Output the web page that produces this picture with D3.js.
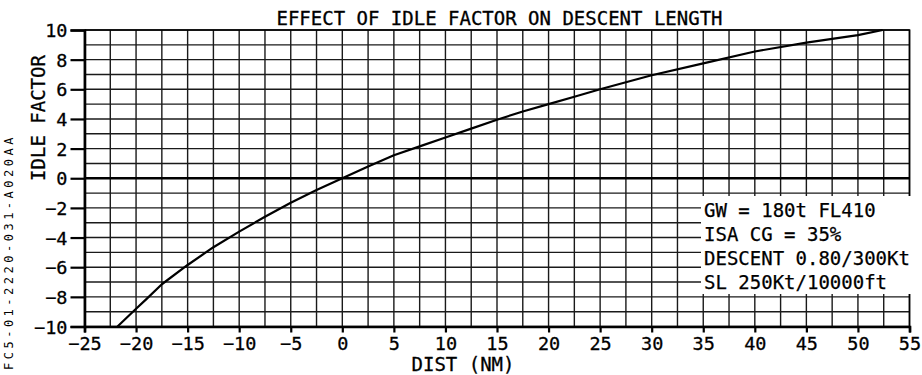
<!DOCTYPE html>
<html>
<head>
<meta charset="utf-8">
<script src="https://cdn.jsdelivr.net/npm/d3@7"></script>
<style>
  html, body { margin: 0; padding: 0; background: #fff; }
  svg { display: block; }
  text { font-family: "DejaVu Sans Mono", monospace; fill: #000; }
</style>
</head>
<body>
<svg id="chart" width="922" height="375"></svg>
<script>
// Distance (NM) against idle factor
const dist = [-21.8, -20, -19, -17.5, -15, -12.5, -10, -7.5, -5, -2.5, 0, 2.5, 5, 7.5, 10, 12.5, 15, 17.5, 20, 22.5, 25, 30, 35, 40, 45, 50, 52.4];
const idle = [-10, -8.8, -8.15, -7.15, -5.85, -4.65, -3.6, -2.6, -1.65, -0.8, 0, 0.8, 1.55, 2.15, 2.75, 3.35, 3.95, 4.5, 5.0, 5.5, 6.0, 6.95, 7.75, 8.55, 9.15, 9.65, 10];

const xTicks = [-25, -20, -15, -10, -5, 0, 5, 10, 15, 20, 25, 30, 35, 40, 45, 50, 55];
const yTicks = [-10, -8, -6, -4, -2, 0, 2, 4, 6, 8, 10];
const xGrid = d3.range(-25, 55.01, 2.5);
const yGrid = d3.range(-10, 10.01, 1);

const title = "EFFECT OF IDLE FACTOR ON DESCENT LENGTH";
const xTitle = "DIST (NM)";
const yTitle = "IDLE FACTOR";
const notes = ["GW = 180t FL410", "ISA CG = 35%", "DESCENT 0.80/300Kt", "SL 250Kt/10000ft"];
const figRef = "FC5-01-2220-031-A020AA";

const svg = d3.select("#chart");
const x = d3.scaleLinear().domain([-25, 55]).range([84.5, 909.5]);
const y = d3.scaleLinear().domain([-10, 10]).range([326.5, 30]);

// grid
const grid = svg.append("g").attr("stroke", "#1a1a1a").attr("stroke-width", 1.4);
grid.selectAll("line.v").data(xGrid).join("line")
  .attr("x1", d => x(d)).attr("x2", d => x(d))
  .attr("y1", y(10)).attr("y2", y(-10));
grid.selectAll("line.h").data(yGrid).join("line")
  .attr("x1", x(-25)).attr("x2", x(55))
  .attr("y1", d => y(d)).attr("y2", d => y(d));

// heavier zero line
svg.append("line")
  .attr("x1", x(-25)).attr("x2", x(55))
  .attr("y1", y(0)).attr("y2", y(0))
  .attr("stroke", "#000").attr("stroke-width", 2.4);

// curve
svg.append("path")
  .datum(d3.zip(dist, idle))
  .attr("fill", "none").attr("stroke", "#000").attr("stroke-width", 2.2)
  .attr("stroke-linejoin", "round")
  .attr("d", d3.line().x(d => x(d[0])).y(d => y(d[1])));

// axes
const fmt = d => d < 0 ? "\u2212" + Math.abs(d) : String(d);
const xAxis = svg.append("g").attr("transform", `translate(0,${y(-10)})`)
  .call(d3.axisBottom(x).tickValues(xTicks).tickSize(6).tickPadding(4).tickFormat(fmt));
const yAxis = svg.append("g").attr("transform", `translate(${x(-25)},0)`)
  .call(d3.axisLeft(y).tickValues(yTicks).tickSize(14).tickPadding(3).tickFormat(fmt));
[xAxis, yAxis].forEach(a => {
  a.select(".domain").attr("stroke", "#000").attr("stroke-width", 2.6);
  a.selectAll(".tick line").attr("stroke", "#000").attr("stroke-width", 2.2);
  a.selectAll(".tick text").attr("font-family", "DejaVu Sans Mono").attr("font-size", 18.5)
    .attr("fill", "#000").attr("stroke", "#000").attr("stroke-width", 0.3);
});
yAxis.selectAll(".tick text").attr("dy", "0.36em");

// top and right frame
svg.append("path")
  .attr("d", `M${x(-25)},${y(10)}H${x(55)}V${y(-10)}`)
  .attr("fill", "none").attr("stroke", "#000").attr("stroke-width", 1.6);

// notes panel sits over the grid and frame
svg.append("rect")
  .attr("x", 701).attr("y", 196).attr("width", 221).attr("height", 98)
  .attr("fill", "#fff");
svg.append("g").selectAll("text").data(notes).join("text")
  .attr("x", 704).attr("y", (d, i) => 216.5 + i * 24.2)
  .attr("font-size", 19).attr("stroke", "#000").attr("stroke-width", 0.25)
  .text(d => d);

// titles
const heading = svg.append("g").attr("stroke", "#000").attr("stroke-width", 0.3).attr("font-size", 19);
heading.append("text").attr("x", 499.5).attr("y", 25)
  .attr("text-anchor", "middle").text(title);
heading.append("text").attr("x", 463).attr("y", 371)
  .attr("text-anchor", "middle").text(xTitle);
heading.append("text").attr("transform", "translate(45,118) rotate(-90)")
  .attr("text-anchor", "middle").text(yTitle);
svg.append("text").attr("transform", "translate(13,370) rotate(-90)")
  .attr("text-anchor", "start").attr("font-size", 12).attr("letter-spacing", 3.5)
  .text(figRef);
</script>
</body>
</html>
